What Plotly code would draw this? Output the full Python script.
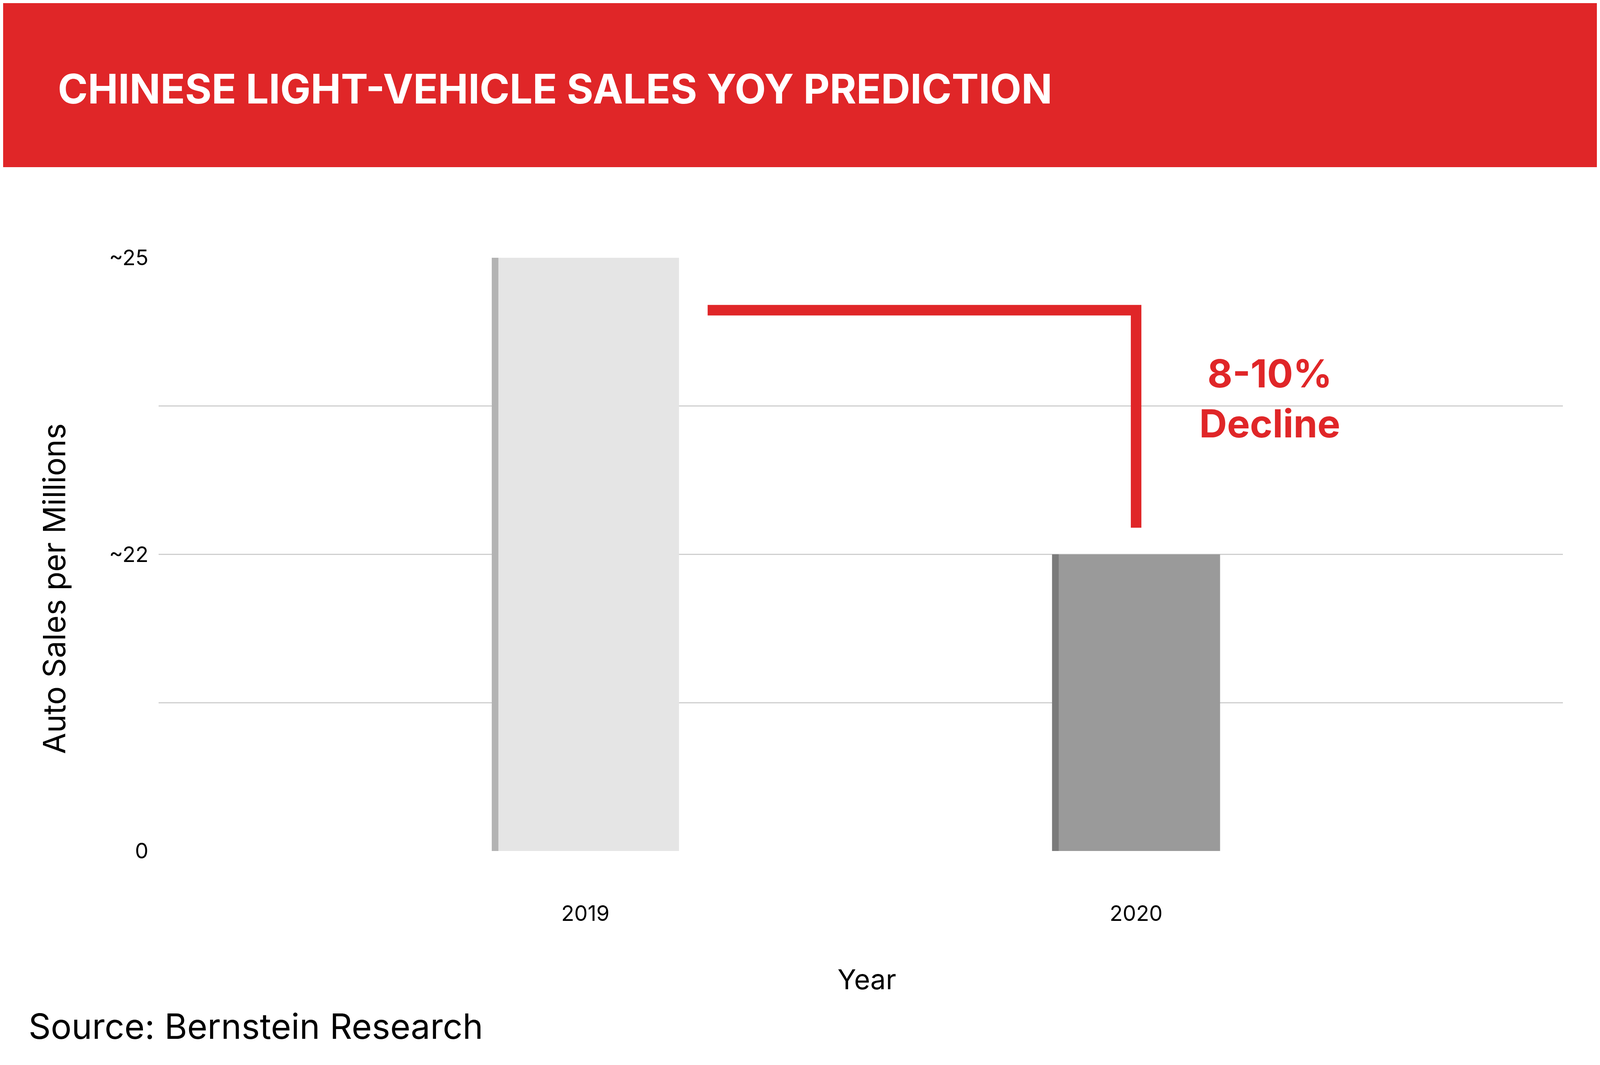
import plotly.graph_objects as go

# ---- data ----
years = ["2019", "2020"]
sales_millions = [25, 22]                 # ~25M (2019) vs ~22M predicted (2020)
y_tick_values = [19, 20.5, 22, 23.5, 25]  # broken axis: bottom labelled "0"
y_tick_labels = ["0", "", "~22", "", "~25"]
decline_label = "8-10%<br>Decline"
bracket_x = [0.222, 1, 1]
bracket_y = [24.47, 24.47, 22.27]

# ---- styles ----
RED = "#e02628"
FONT = "Inter, 'Open Sans', sans-serif"
fill_colors = ["#e5e5e5", "#9a9a9a"]
edge_colors = ["#b3b3b3", "#7b7b7b"]
bar_widths = [0.34, 0.305]

# layout measured in reference pixels, converted to page (CSS) pixels
VIEW_W, VIEW_H = 4096, 2727
SX = VIEW_W / 5000
SY = VIEW_H / 2727
FS = 0.88                # font scale
MARGIN = 8               # default body margin


def cx(p):
    return p * SX - MARGIN


def cy(p):
    return p * SY - MARGIN


W = VIEW_W - 2 * MARGIN
H = VIEW_H - 2 * MARGIN
L = round(cx(496))
T = round(cy(660))
R = round(W - cx(4884))
B = round(H - cy(2179))
PW, PH = W - L - R, H - T - B


def px(xp):
    return (cx(xp) - L) / PW


def py(yp):
    return (H - B - cy(yp)) / PH


pos = list(range(len(years)))

fig = go.Figure()
fig.add_trace(go.Bar(
    x=pos, y=sales_millions, width=bar_widths,
    marker=dict(color=fill_colors, line=dict(width=0)),
    hoverinfo="skip",
))
fig.add_trace(go.Bar(
    x=pos, y=sales_millions, width=[0.012, 0.012],
    offset=[-w / 2 for w in bar_widths],
    marker=dict(color=edge_colors, line=dict(width=0)),
    hoverinfo="skip",
))
fig.add_trace(go.Scatter(
    x=bracket_x, y=bracket_y, mode="lines",
    line=dict(color=RED, width=27), hoverinfo="skip",
))

fig.update_layout(
    width=W, height=H, autosize=False,
    margin=dict(l=L, r=R, t=T, b=B, pad=0),
    barmode="overlay",
    showlegend=False,
    plot_bgcolor="white",
    paper_bgcolor="white",
    font=dict(family=FONT, color="black"),
    xaxis=dict(
        range=[-0.775, 1.775], tickmode="array", tickvals=pos, ticktext=years,
        showgrid=False, zeroline=False, showline=False, ticks="",
        tickfont=dict(size=62 * FS, color="black"),
        ticklabelstandoff=123,
    ),
    yaxis=dict(
        range=[19, 25], tickmode="array", tickvals=y_tick_values,
        ticktext=y_tick_labels, showgrid=True, gridcolor="#cfcfcf",
        gridwidth=3, zeroline=False, showline=False, ticks="",
        tickfont=dict(size=62 * FS, color="black"),
        ticklabelstandoff=25,
    ),
    shapes=[dict(
        type="rect", xref="paper", yref="paper",
        x0=-0.3, x1=1.3, y0=py(428), y1=py(-60),
        fillcolor=RED, line=dict(width=0), layer="below",
    )],
    annotations=[
        dict(text="CHINESE LIGHT-VEHICLE SALES YOY PREDICTION",
             xref="paper", yref="paper", x=px(178), y=py(227),
             xanchor="left", yanchor="middle", showarrow=False,
             font=dict(family=FONT, size=118 * FS, color="white", weight=700)),
        dict(text="Auto Sales per Millions", xref="paper", yref="paper",
             x=px(168), y=py(1507), textangle=-90, xanchor="center",
             yanchor="middle", showarrow=False,
             font=dict(family=FONT, size=82 * 0.96, color="black")),
        dict(text="Year", xref="paper", yref="paper",
             x=px(2709), y=py(2507), xanchor="center", yanchor="middle",
             showarrow=False, font=dict(family=FONT, size=80 * FS, color="black")),
        dict(text="Source: Bernstein Research", xref="paper", yref="paper",
             x=px(87), y=py(2627), xanchor="left", yanchor="middle",
             showarrow=False, font=dict(family=FONT, size=101 * FS, color="black")),
        dict(text=decline_label, xref="x", yref="y", x=1.243, y=23.578,
             xanchor="center", yanchor="middle", align="center",
             showarrow=False,
             font=dict(family=FONT, size=112 * FS, color=RED, weight=700)),
    ],
)

fig.write_html("out.html")
